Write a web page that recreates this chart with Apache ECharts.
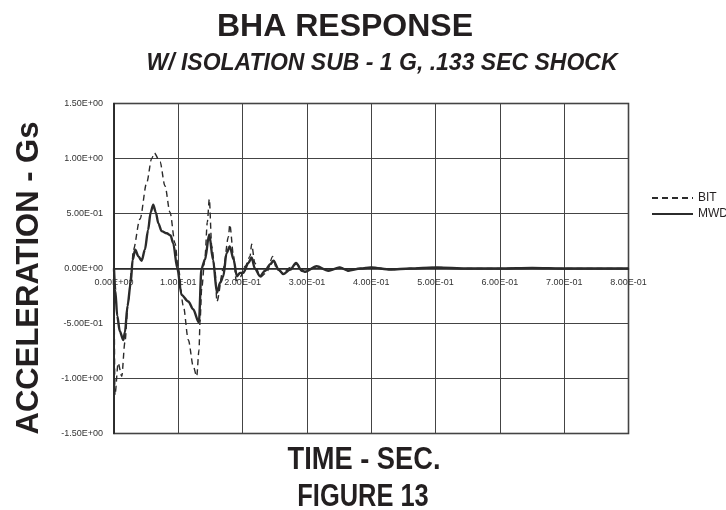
<!DOCTYPE html>
<html>
<head>
<meta charset="utf-8">
<script src="https://cdn.jsdelivr.net/npm/echarts@6/dist/echarts.min.js"></script>
<style>
html,body{margin:0;padding:0;background:#fff;}
#chart{width:726px;height:510px;}
</style>
</head>
<body>
<div id="chart"></div>
<script>
// ---- data ----
const xTickLabels = ['0.00E+00','1.00E-01','2.00E-01','3.00E-01','4.00E-01','5.00E-01','6.00E-01','7.00E-01','8.00E-01'];
const yTickLabels = ['-1.50E+00','-1.00E+00','-5.00E-01','0.00E+00','5.00E-01','1.00E+00','1.50E+00'];
const seriesNames = ['BIT', 'MWD'];

const mwdTime = [0, 0.002, 0.005, 0.009, 0.0145, 0.017, 0.021, 0.026, 0.029, 0.033, 0.038, 0.043, 0.048, 0.053, 0.057, 0.061, 0.065, 0.069, 0.074, 0.082, 0.088, 0.092, 0.0985, 0.105, 0.1156, 0.123, 0.132, 0.136, 0.1415, 0.148, 0.154, 0.160, 0.165, 0.170, 0.175, 0.180, 0.186, 0.191, 0.196, 0.201, 0.209, 0.214, 0.219, 0.227, 0.235, 0.243, 0.248, 0.256, 0.263, 0.274, 0.283, 0.292, 0.297, 0.315, 0.333, 0.351, 0.364, 0.383, 0.40, 0.43, 0.46, 0.50, 0.55, 0.60, 0.65, 0.70, 0.75, 0.80];
const mwdAcc = [0, -0.20, -0.43, -0.57, -0.65, -0.58, -0.34, -0.13, 0.08, 0.17, 0.11, 0.07, 0.17, 0.35, 0.51, 0.58, 0.51, 0.41, 0.34, 0.32, 0.30, 0.23, 0.0, -0.24, -0.30, -0.37, -0.49, 0.0, 0.08, 0.31, 0.08, -0.22, -0.13, -0.07, 0.14, 0.20, 0.08, -0.07, -0.04, -0.04, 0.05, 0.10, 0.0, -0.07, -0.02, 0.04, 0.07, -0.01, -0.05, -0.01, 0.05, -0.02, -0.03, 0.02, -0.02, 0.01, -0.02, 0.0, 0.01, -0.01, 0.0, 0.01, 0.0, 0.0, 0.005, 0.0, 0.0, 0.0];

const bitTime = [0, 0.0015, 0.0065, 0.012, 0.017, 0.022, 0.0275, 0.030, 0.0404, 0.0509, 0.0586, 0.0627, 0.0715, 0.0793, 0.0871, 0.0949, 0.100, 0.1078, 0.1156, 0.1233, 0.1286, 0.1322, 0.1337, 0.1364, 0.1415, 0.1451, 0.1482, 0.152, 0.157, 0.160, 0.170, 0.178, 0.180, 0.186, 0.190, 0.196, 0.204, 0.2115, 0.214, 0.219, 0.227, 0.237, 0.247, 0.253, 0.263, 0.274, 0.284, 0.297, 0.315, 0.333, 0.351, 0.364, 0.383, 0.40, 0.43, 0.46, 0.50, 0.55, 0.60, 0.65, 0.70, 0.75, 0.80];
const bitAcc = [0, -1.15, -0.86, -0.98, -0.67, -0.31, 0.0, 0.17, 0.45, 0.78, 1.0, 1.05, 0.97, 0.75, 0.51, 0.23, 0.0, -0.34, -0.65, -0.89, -0.98, -0.74, -0.49, -0.18, 0.11, 0.42, 0.63, 0.20, -0.01, -0.30, 0.0, 0.29, 0.40, 0.11, -0.11, -0.08, 0.02, 0.11, 0.22, 0.05, -0.08, -0.04, 0.11, -0.01, -0.04, 0.01, 0.04, -0.03, 0.02, -0.02, 0.01, -0.02, 0.0, 0.01, -0.01, 0.0, 0.01, 0.0, 0.0, 0.005, 0.0, 0.0, 0.0];

const titleText = 'BHA RESPONSE';
const subtitleText = 'W/ ISOLATION SUB - 1 G, .133 SEC SHOCK';
const xAxisTitle = 'TIME - SEC.';
const yAxisTitle = 'ACCELERATION - Gs';
const figureText = 'FIGURE 13';

// ---- chart ----
const pair = (t, v) => t.map((x, i) => [x, v[i]]);
const ink = '#231f20';
const lineInk = '#2b2b2b';
const boldFont = 'bold 31px "Liberation Sans", Arial, sans-serif';
const gridTop = 103.5, gridBottom = 76.5, plotH = 510 - gridTop - gridBottom;

const chart = echarts.init(document.getElementById('chart'), null, {renderer: 'canvas'});
chart.setOption({
  backgroundColor: '#fff',
  animation: false,
  grid: {left: 114, right: 97.5, top: gridTop, bottom: gridBottom, show: true, borderColor: '#222', borderWidth: 1.5},
  xAxis: {
    type: 'value', min: 0, max: 0.8, interval: 0.1,
    offset: -plotH / 2,
    axisLine: {onZero: false, lineStyle: {color: '#222', width: 1.5}},
    axisTick: {show: false},
    splitLine: {show: true, lineStyle: {color: '#444', width: 1}},
    axisLabel: {
      margin: 10, fontSize: 9, color: '#333', fontFamily: '"Liberation Sans", Arial, sans-serif',
      formatter: v => xTickLabels[Math.round(v / 0.1)]
    }
  },
  yAxis: {
    type: 'value', min: -1.5, max: 1.5, interval: 0.5,
    axisLine: {show: true, onZero: false, lineStyle: {color: '#222', width: 1.5}},
    axisTick: {show: false},
    splitLine: {show: true, lineStyle: {color: '#444', width: 1}},
    axisLabel: {
      margin: 11, fontSize: 9, color: '#333', fontFamily: '"Liberation Sans", Arial, sans-serif',
      formatter: v => yTickLabels[Math.round((v + 1.5) / 0.5)]
    }
  },
  legend: {
    orient: 'vertical', left: 646, top: 187, itemWidth: 41, itemHeight: 12, itemGap: 4,
    itemStyle: {color: 'rgba(0,0,0,0)', borderWidth: 0, borderColor: 'rgba(0,0,0,0)'},
    textStyle: {fontSize: 12, color: ink, fontFamily: '"Liberation Sans", Arial, sans-serif'},
    data: seriesNames
  },
  series: [
    {
      name: seriesNames[0], type: 'line', data: pair(bitTime, bitAcc),
      symbol: 'none', smooth: 0.3, smoothMonotone: 'x',
      lineStyle: {color: lineInk, width: 1.4, type: [6, 4]},
      itemStyle: {color: lineInk}
    },
    {
      name: seriesNames[1], type: 'line', data: pair(mwdTime, mwdAcc),
      symbol: 'none', smooth: 0.3, smoothMonotone: 'x',
      lineStyle: {color: lineInk, width: 2.4},
      itemStyle: {color: lineInk}
    }
  ],
  graphic: [
    {type: 'text', x: 345, y: 27, style: {text: titleText, font: 'bold 32px "Liberation Sans", Arial, sans-serif', fill: ink, textAlign: 'center', textVerticalAlign: 'middle'}},
    {type: 'text', x: 382, y: 64, style: {text: subtitleText, font: 'italic bold 23px "Liberation Sans", Arial, sans-serif', fill: ink, textAlign: 'center', textVerticalAlign: 'middle'}},
    {type: 'text', x: 364, y: 460, scaleX: 0.88, style: {text: xAxisTitle, font: boldFont, fill: ink, textAlign: 'center', textVerticalAlign: 'middle'}},
    {type: 'text', x: 363, y: 497, scaleX: 0.82, style: {text: figureText, font: boldFont, fill: ink, textAlign: 'center', textVerticalAlign: 'middle'}},
    {type: 'text', x: 29, y: 278, rotation: Math.PI / 2, style: {text: yAxisTitle, font: boldFont, fill: ink, textAlign: 'center', textVerticalAlign: 'middle'}}
  ]
});
</script>
</body>
</html>
